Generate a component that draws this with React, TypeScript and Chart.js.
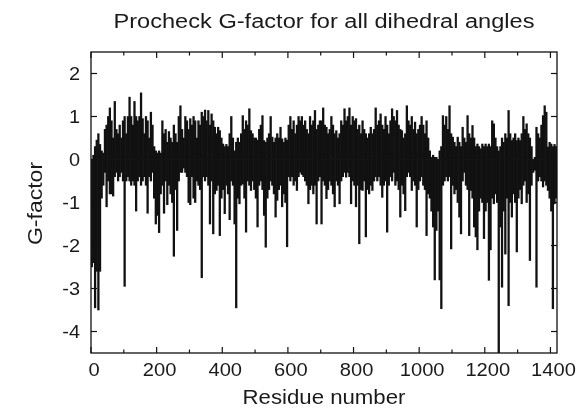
import React, { useEffect, useRef } from 'react';
import { Chart, registerables } from 'chart.js';

Chart.register(...registerables);

// Residues are grouped in bins of 5; for each bin the most positive and most negative G-factor.
const BIN = 5;
const X_MIN = 0;
const X_MAX = 1420;
const Y_MIN = -4.5;
const Y_MAX = 2.5;

const posMax: number[] = [
  0, 0.1, 0.3, 0.45, 0.6, 0.35, 0.2, 0.15, 0.7, 0.8, 1.0, 1.2, 0.9, 0.5, 1.35, 0.7, 0.6, 0.8, 0.5, 0.9,
  1.0, 0.6, 1.0, 1.45, 1.0, 0.8, 1.35, 1.0, 0.9, 1.0, 1.55, 0.95, 0.6, 1.0, 0.9, 0.5, 1.1, 0.8, 0.3, 0.2,
  0.15, 0.2, 0.15, 0.9, 0.6, 0.7, 0.4, 0.65, 0.5, 0.4, 0.8, 0.6, 0.4, 1.0, 1.25, 0.7, 0.5, 1.0, 0.9, 0.7,
  0.95, 0.8, 1.0, 0.9, 0.5, 0.9, 0.8, 1.1, 1.0, 1.15, 0.9, 1.14, 0.8, 1.06, 0.9, 0.75, 0.6, 0.75, 0.67, 0.5,
  0.36, 0.3, 0.35, 0.3, 0.6, 1.0, 0.5, 0.2, 0.4, 0.5, 0.4, 0.6, 1.02, 0.7, 0.9, 0.8, 1.18, 0.67, 0.6, 0.5,
  0.5, 0.45, 0.7, 0.8, 1.02, 0.44, 0.4, 0.5, 0.6, 1.0, 0.52, 0.4, 0.5, 0.6, 0.5, 0.75, 0.48, 0.4, 0.5, 0.45,
  0.8, 1.0, 0.7, 0.9, 0.6, 0.8, 1.0, 0.9, 1.0, 0.8, 0.9, 0.7, 0.6, 1.0, 0.8, 0.9, 1.14, 0.7, 0.8, 0.9,
  0.9, 1.2, 0.8, 0.75, 0.6, 0.7, 1.0, 0.8, 0.6, 0.67, 0.5, 0.6, 0.9, 0.8, 1.18, 0.9, 1.0, 1.2, 0.8, 1.0,
  0.9, 0.95, 0.7, 0.8, 0.6, 0.9, 0.7, 0.6, 0.5, 0.6, 0.75, 0.6, 0.7, 1.2, 0.8, 0.9, 1.06, 0.8, 0.7, 1.0,
  0.8, 0.6, 0.9, 1.18, 1.0, 0.9, 1.14, 0.8, 0.7, 0.67, 0.5, 0.6, 1.25, 0.9, 0.8, 1.0, 0.7, 0.87, 0.6, 0.7,
  0.8, 1.0, 0.8, 0.6, 0.9, 0.5, 0.2, 0.05, 0.1, 0.05, 0.05, 0.0, 0.2, 0.3, 1.02, 0.8, 1.0, 0.7, 1.25, 0.6,
  0.52, 0.4, 0.3, 0.52, 0.4, 0.3, 0.75, 0.5, 0.4, 1.02, 0.6, 0.5, 0.79, 0.5, 0.3, 0.36, 0.3, 0.25, 0.36, 0.3,
  0.36, 0.3, 0.36, 0.3, 0.9, 0.83, 0.5, 0.3, 0.2, 0.3, 0.5, 0.4, 0.6, 0.5, 1.14, 0.6, 0.44, 0.5, 0.6, 0.44,
  0.5, 0.44, 0.6, 1.0, 0.7, 0.83, 0.6, 0.5, 0.3, 0.0, 0.05, 0.75, 0.6, 0.5, 0.8, 1.02, 1.25, 1.1, 0.29, 0.4,
  0.36, 0.3, 0.35, 0.3,
];

const negMin: number[] = [
  -2.5, -2.4, -3.45, -2.6, -3.5, -2.6, -0.9, -0.6, -0.3, -1.1, -0.5, -0.8, -0.8, -0.85, -0.4, -0.3, -0.5, -0.4, -0.3, -0.5,
  -2.95, -0.5, -0.4, -0.5, -0.6, -0.5, -0.6, -1.2, -0.5, -0.4, -0.6, -0.5, -0.4, -0.6, -1.25, -0.4, -0.5, -0.3, -0.9, -1.5,
  -1.3, -1.7, -0.8, -0.6, -1.25, -0.5, -1.05, -0.6, -0.8, -1.0, -2.25, -0.7, -1.65, -0.5, -0.3, -0.3, -0.2, -0.3, -0.4, -1.0,
  -1.05, -0.4, -0.9, -1.0, -0.5, -0.6, -0.7, -2.75, -0.4, -0.5, -0.4, -0.6, -1.5, -0.5, -1.73, -0.8, -0.72, -0.6, -1.77, -0.9,
  -0.7, -1.26, -0.6, -0.8, -1.4, -0.5, -0.6, -1.5, -3.45, -0.9, -1.03, -0.6, -0.57, -0.9, -1.69, -0.5, -0.6, -0.72, -0.5, -0.7,
  -0.9, -1.57, -0.6, -0.5, -0.7, -1.3, -2.04, -0.9, -0.7, -0.5, -0.6, -0.8, -1.34, -0.95, -0.7, -0.6, -1.1, -0.8, -1.0, -2.03,
  -0.4, -0.5, -0.4, -0.6, -0.5, -0.72, -0.4, -0.3, -0.35, -0.4, -0.5, -0.6, -1.03, -0.7, -0.6, -0.8, -0.6, -1.5, -0.5, -0.4,
  -1.5, -0.5, -0.6, -0.91, -0.7, -0.5, -0.6, -0.8, -1.1, -0.5, -0.6, -1.03, -0.5, -0.4, -0.3, -0.41, -0.3, -0.4, -1.03, -0.5,
  -0.6, -1.1, -0.6, -1.96, -0.7, -0.72, -0.5, -1.8, -0.7, -0.8, -0.6, -0.72, -0.5, -0.4, -0.5, -0.4, -0.6, -0.88, -0.6, -0.5,
  -1.69, -0.6, -0.4, -0.5, -0.3, -0.6, -0.5, -0.7, -1.34, -0.6, -0.8, -1.19, -0.4, -0.3, -0.4, -0.72, -0.5, -0.6, -1.57, -0.7,
  -0.5, -0.4, -0.6, -0.7, -1.77, -0.8, -0.9, -1.2, -1.57, -2.8, -1.65, -1.2, -2.8, -3.47, -0.6, -0.5, -0.4, -0.5, -0.4, -2.08,
  -0.6, -0.8, -0.7, -1.0, -1.34, -1.73, -0.5, -0.3, -0.6, -0.7, -1.77, -0.72, -0.9, -1.57, -1.8, -2.1, -1.2, -0.9, -1.0, -1.84,
  -1.2, -1.0, -2.81, -2.1, -0.9, -1.03, -0.8, -1.0, -4.8, -1.57, -2.97, -1.2, -2.2, -0.9, -3.4, -1.0, -1.34, -0.8, -1.0, -2.15,
  -0.9, -0.7, -1.03, -0.6, -0.5, -1.0, -0.8, -2.35, -0.6, -0.3, -0.25, -2.97, -0.5, -0.4, -0.5, -0.64, -0.5, -0.6, -0.72, -0.9,
  -1.2, -3.47, -1.03, -0.9,
];

const xMajorTicks = [0, 200, 400, 600, 800, 1000, 1200, 1400];
const xMinorTicks = [100, 300, 500, 700, 900, 1100, 1300];
const yTicks = [2, 1, 0, -1, -2, -3, -4];

const TITLE = 'Procheck G-factor for all dihedral angles';
const X_TITLE = 'Residue number';
const Y_TITLE = 'G-factor';

const FONT = '"Liberation Sans", Arial, Helvetica, sans-serif';

function stretchedText(ctx: CanvasRenderingContext2D, text: string, x: number, y: number, sx: number, rotate = 0) {
  ctx.save();
  ctx.translate(x, y);
  if (rotate) ctx.rotate(rotate);
  ctx.scale(sx, 1);
  ctx.fillText(text, 0, 0);
  ctx.restore();
}

const framePlugin = {
  id: 'gnuplotFrame',
  afterDraw(chart: any) {
    const { ctx, chartArea: a, scales } = chart;
    const xs = scales.x;
    const ys = scales.y;
    ctx.save();
    ctx.strokeStyle = '#111';
    ctx.lineWidth = 1.3;
    ctx.strokeRect(a.left, a.top, a.right - a.left, a.bottom - a.top);
    ctx.lineWidth = 1.2;
    const seg = (x1: number, y1: number, x2: number, y2: number) => {
      ctx.beginPath();
      ctx.moveTo(x1, y1);
      ctx.lineTo(x2, y2);
      ctx.stroke();
    };
    for (const v of xMajorTicks) {
      const px = xs.getPixelForValue(v);
      seg(px, a.bottom, px, a.bottom - 6);
      seg(px, a.top, px, a.top + 6);
    }
    for (const v of xMinorTicks) {
      const px = xs.getPixelForValue(v);
      seg(px, a.bottom, px, a.bottom - 3.5);
      seg(px, a.top, px, a.top + 3.5);
    }
    for (const v of yTicks) {
      const py = ys.getPixelForValue(v);
      seg(a.left, py, a.left + 6, py);
      seg(a.right, py, a.right - 6, py);
    }

    ctx.fillStyle = '#1a1a1a';
    ctx.font = `19px ${FONT}`;
    ctx.textAlign = 'right';
    ctx.textBaseline = 'middle';
    for (const v of yTicks) {
      stretchedText(ctx, String(v), a.left - 11, ys.getPixelForValue(v) + 1, 1.05);
    }
    ctx.textAlign = 'center';
    ctx.textBaseline = 'top';
    for (const v of xMajorTicks) {
      stretchedText(ctx, String(v), xs.getPixelForValue(v) + 3, a.bottom + 8, 1.06);
    }

    ctx.font = `20px ${FONT}`;
    ctx.textBaseline = 'alphabetic';
    stretchedText(ctx, X_TITLE, (a.left + a.right) / 2, 404, 1.11);
    stretchedText(ctx, Y_TITLE, 42, (a.top + a.bottom) / 2 + 1, 1.15, -Math.PI / 2);
    stretchedText(ctx, TITLE, (a.left + a.right) / 2, 28, 1.18);
    ctx.restore();
  },
};

export default function App() {
  const canvasRef = useRef<HTMLCanvasElement | null>(null);

  useEffect(() => {
    const canvas = canvasRef.current;
    if (!canvas) return;
    const pos = posMax.map((v, i) => ({ x: i * BIN + BIN / 2, y: v }));
    const neg = negMin.map((v, i) => ({ x: i * BIN + BIN / 2, y: v }));
    const chart = new Chart(canvas, {
      type: 'bar',
      data: {
        datasets: [
          { label: 'G-factor (max)', data: pos as any, backgroundColor: '#111', borderWidth: 0 },
          { label: 'G-factor (min)', data: neg as any, backgroundColor: '#111', borderWidth: 0 },
        ],
      },
      options: {
        animation: false,
        responsive: false,
        devicePixelRatio: 1,
        layout: { padding: { left: 91, right: 24, top: 52, bottom: 61 } },
        datasets: { bar: { grouped: false, barPercentage: 1, categoryPercentage: 1 } } as any,
        plugins: {
          legend: { display: false },
          tooltip: { enabled: false },
          title: { display: false },
        },
        scales: {
          x: { type: 'linear', min: X_MIN, max: X_MAX, offset: false, display: false },
          y: { type: 'linear', min: Y_MIN, max: Y_MAX, display: false },
        },
      },
      plugins: [framePlugin],
    });
    return () => chart.destroy();
  }, []);

  return (
    <div style={{ position: 'fixed', left: 0, top: 0, width: 581, height: 414, background: '#fff' }}>
      <canvas ref={canvasRef} width={581} height={414} style={{ display: 'block', width: 581, height: 414 }} />
    </div>
  );
}
